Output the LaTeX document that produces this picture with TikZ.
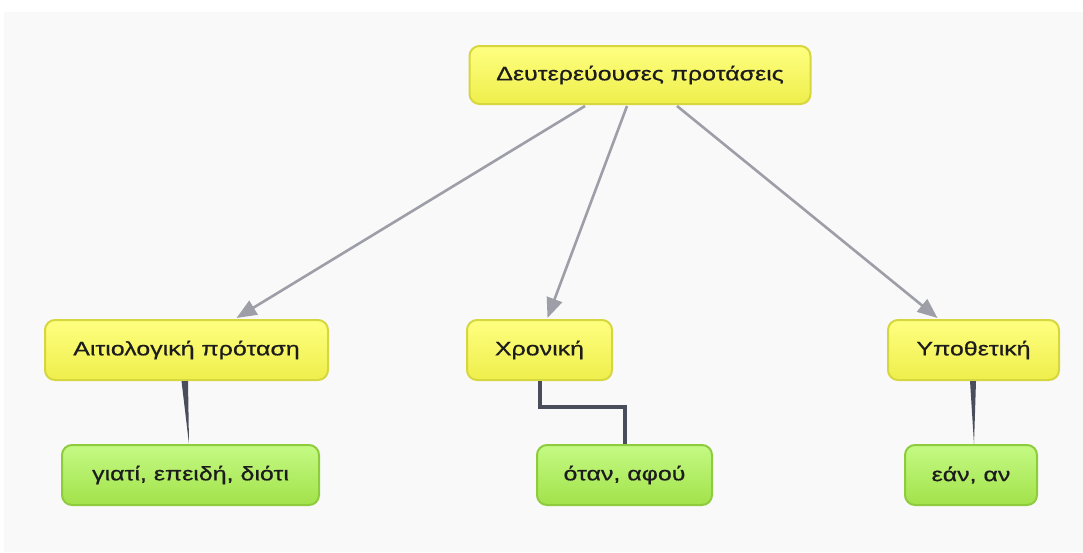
\documentclass[tikz,border=0pt]{standalone}
\usepackage{fontspec}
\setmainfont{Liberation Sans}[FakeStretch=1.28,FakeBold=0.6]
\usetikzlibrary{arrows.meta}
\definecolor{bgc}{HTML}{F9F9F9}
\definecolor{yfillt}{HTML}{FFFF80}
\definecolor{yfillb}{HTML}{EEEE4C}
\definecolor{ydraw}{HTML}{D6D63E}
\definecolor{gfillt}{HTML}{C4FA84}
\definecolor{gfillb}{HTML}{A2E24A}
\definecolor{gdraw}{HTML}{8ECC3E}
\definecolor{arrowc}{HTML}{9E9EA8}
\definecolor{linkc}{HTML}{4A4E5A}
\definecolor{txt}{HTML}{1C1C1C}
\tikzset{
  box/.style={rounded corners=10pt, line width=2pt, minimum height=58pt,
    text=txt, font=\fontsize{19.5}{23}\selectfont, inner sep=0pt},
  ybox/.style={box, draw=ydraw, top color=yfillt, bottom color=yfillb},
  gbox/.style={box, draw=gdraw, top color=gfillt, bottom color=gfillb},
  arr/.style={draw=arrowc, line width=2.6pt, -{Triangle[length=20pt,width=16pt]}},
  link/.style={fill=linkc},
}
\begin{document}
\begin{tikzpicture}[x=1pt,y=-1pt]
\useasboundingbox (0,0) rectangle (1083,552);
\fill[white] (0,0) rectangle (1083,552);
\fill[bgc] (4,12) rectangle (1083,552);

\node[ybox, minimum width=341pt] (top) at (640,75) {\raisebox{-2pt}{Δευτερεύουσες προτάσεις}};
\node[ybox, minimum width=283pt, minimum height=60pt] (a) at (186.5,350) {\raisebox{-2pt}{Αιτιολογική πρόταση}};
\node[ybox, minimum width=145pt, minimum height=60pt] (b) at (539.5,350) {\raisebox{-2pt}{Χρονική}};
\node[ybox, minimum width=171pt, minimum height=60pt] (c) at (973.5,350) {\raisebox{-2pt}{Υποθετική}};
\node[gbox, minimum width=257pt, minimum height=60pt] (g1) at (190.5,475) {\raisebox{-2pt}{γιατί, επειδή, διότι}};
\node[gbox, minimum width=175pt, minimum height=60pt] (g2) at (624.5,475) {\raisebox{-2pt}{όταν, αφού}};
\node[gbox, minimum width=132pt, minimum height=60pt] (g3) at (971,475) {\raisebox{-2pt}{εάν, αν}};

\draw[arr] ([xshift=-55pt,yshift=-1pt]top.south) -- ([xshift=50pt,yshift=1pt]a.north);
\draw[arr] ([xshift=-13pt,yshift=-1pt]top.south) -- ([xshift=8pt,yshift=1pt]b.north);
\draw[arr] ([xshift=37pt,yshift=-1pt]top.south) -- ([xshift=-36pt,yshift=1pt]c.north);

\fill[link] ([xshift=-5pt]a.south) -- ([xshift=1.5pt]a.south) -- ([xshift=-1.5pt]g1.north) -- cycle;
\fill[link] ([xshift=-3.5pt]c.south) -- ([xshift=2.5pt]c.south) -- ([xshift=3pt]g3.north) -- cycle;
\draw[linkc, line width=4pt] (b.south) -- ++(0,26) -| (g2.north);
\end{tikzpicture}
\end{document}
